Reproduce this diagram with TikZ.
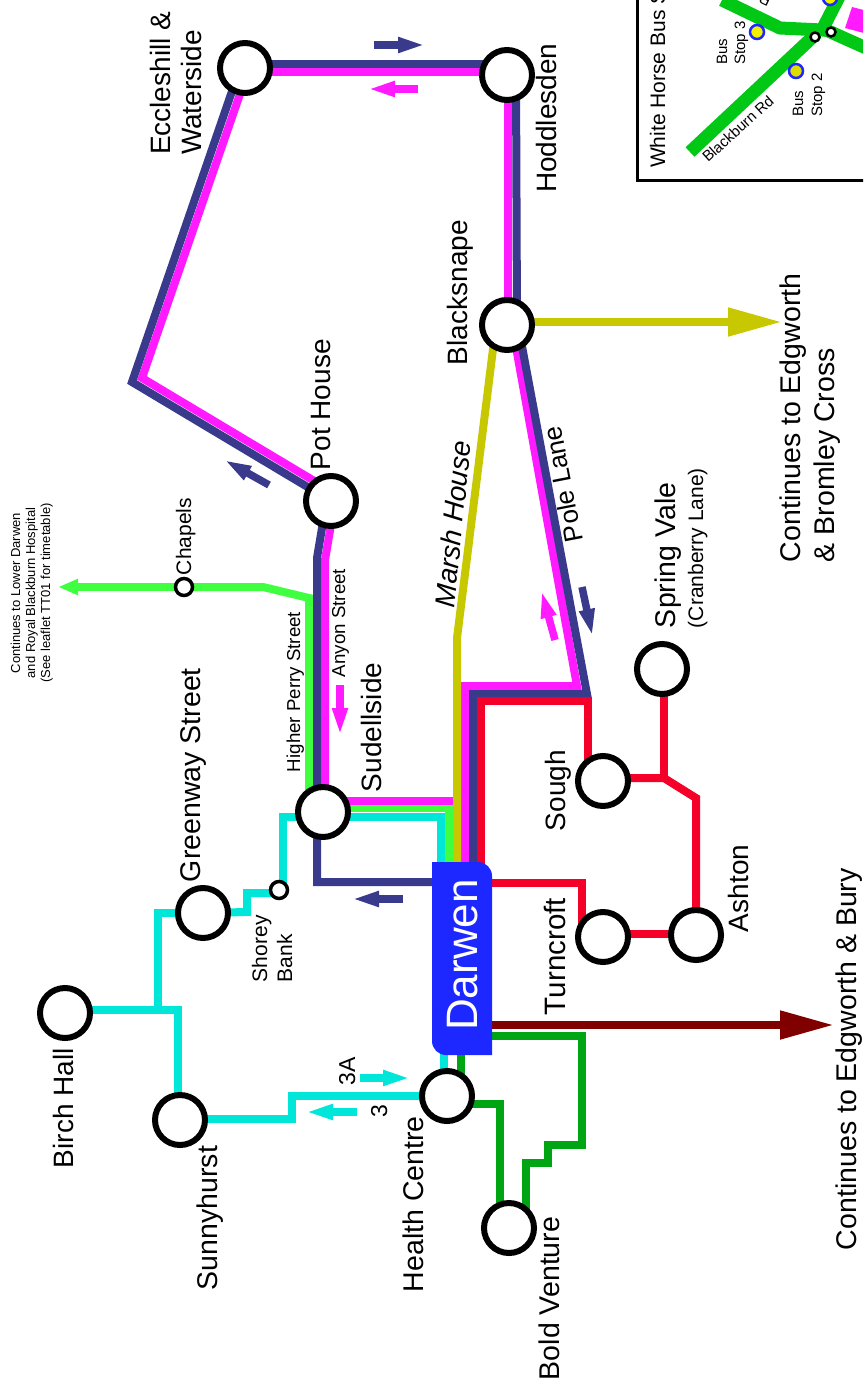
\documentclass[tikz,border=0pt]{standalone}
\usepackage{fontspec}
\setmainfont{Liberation Sans}
\usetikzlibrary{calc,arrows.meta,backgrounds}
\definecolor{navy}{HTML}{3A3A8C}
\definecolor{magen}{HTML}{FF1AFF}
\definecolor{cyanl}{HTML}{00E6D8}
\definecolor{lime}{HTML}{40FF40}
\definecolor{olive}{HTML}{C8C800}
\definecolor{redl}{HTML}{F50028}
\definecolor{dgreen}{HTML}{00A514}
\definecolor{maroon}{HTML}{800000}
\definecolor{dblue}{HTML}{1C28FF}
\definecolor{road}{HTML}{00C814}
\definecolor{stopy}{HTML}{F0F000}
\tikzset{
 station/.style={circle,draw=black,fill=white,line width=6pt,minimum size=50pt,inner sep=0pt,outer sep=0pt},
 minor/.style={circle,draw=black,fill=white,line width=3.5pt,minimum size=17pt,inner sep=0pt,outer sep=0pt},
 junct/.style={circle,draw=black,fill=white,line width=2.5pt,minimum size=9pt,inner sep=0pt,outer sep=0pt},
 busstop/.style={circle,draw=dblue,fill=stopy,line width=2.5pt,minimum size=14pt,inner sep=0pt,outer sep=0pt},
 route/.style={line width=8pt,line join=miter,miter limit=10},
 roadline/.style={road,line width=13pt,line join=miter},
 txt/.style={anchor=base west,inner sep=0pt,outer sep=0pt,font=\fontsize{28.5}{33}\selectfont},
 lab/.style={txt,rotate=90},
 labn/.style={lab,font=\fontsize{28}{33}\selectfont},
 labsmall/.style={lab,font=\fontsize{21}{24}\selectfont},
 labtiny/.style={lab,font=\fontsize{15}{18}\selectfont},
 labcentre/.style={rotate=90,anchor=base,inner sep=0pt,font=\fontsize{13}{15}\selectfont},
 dirarrow/.style={line width=7.5pt,-{Triangle[length=28pt,width=14pt,inset=0pt]}},
 endarrow/.style={route,-{Triangle[length=54pt,width=27pt,inset=0pt]}},
}
\begin{document}
\begin{tikzpicture}[x=1pt,y=-1pt]
\useasboundingbox (0,0) rectangle (863,1388);
% ---------- stations
\node[station] (ecc) at (245,68) {};
\node[station] (hod) at (507,75) {};
\node[station] (bla) at (507,325) {};
\node[station] (pot) at (331,501) {};
\node[station] (sud) at (323,812) {};
\node[station] (spr) at (662,669) {};
\node[station] (sou) at (603,781) {};
\node[station] (ash) at (696,935) {};
\node[station] (tur) at (603,937) {};
\node[station] (gre) at (203,913) {};
\node[station] (bir) at (65,1013) {};
\node[station] (sun) at (180,1120) {};
\node[station] (hea) at (447,1096) {};
\node[station] (bol) at (509,1228) {};
\node[minor] (sho) at (279,890) {};
\node[minor] (cha) at (184,587) {};
% ---------- Darwen box
\fill[dblue] (432,862) -- (478,862) arc[start angle=90,end angle=0,radius=14pt] -- (492,1055) -- (446,1055) arc[start angle=270,end angle=180,radius=14pt] -- cycle;
\node[rotate=90,anchor=base,text=white,inner sep=0pt,font=\fontsize{44}{50}\selectfont] (dar) at (477,955) {Darwen};
\coordinate (tipA) at (782,322);
\coordinate (tipB) at (834,1025);
\coordinate (tipC) at (58,587);
% ---------- routes
\begin{scope}[on background layer]
 % cyan
 \draw[route,cyanl] ($(sud.center)+(0,5)$) -- (283,817) -- (283,885);
 \draw[route,cyanl] ($(sud.center)+(0,5)$) -- (441,817) -- (441,870);
 \draw[route,cyanl] ($(sho.center)+(0,3)$) -- (247,893) -- (247,912) -- (gre.center);
 \draw[route,cyanl] (gre.center) -- (158,913) -- (158,1014);
 \draw[route,cyanl] ($(bir.center)+(0,-3)$) -- (178,1010) -- (178,1120);
 \draw[route,cyanl] ($(sun.center)+(0,-1)$) -- (292,1119) -- (292,1096) -- (hea.center);
 \draw[route,cyanl] (444,1096) -- (444,1050);
 % lime
 \draw[route,lime] ($(sud.center)+(-14,0)$) -- (309,598) -- (263,587) -- (cha.center);
 \draw[route,lime,-{Triangle[length=20pt,width=15pt,inset=0pt]}] (cha.center) -- (tipC);
 \draw[route,lime] ($(sud.center)+(0,-4)$) -- (449,808) -- (449,870);
 % magenta
 \draw[route,magen] ($(ecc.center)+(0,4)$) -- ($(hod.center)+(0,-3)$);
 \draw[route,magen] ($(hod.center)+(1,0)$) -- ($(bla.center)+(1,0)$);
 \draw[route,magen] ($(ecc.center)+(4,0)$) -- (142,378) -- ($(pot.center)+(0,-10)$);
 \draw[route,magen] ($(pot.center)+(4,0)$) -- (325,560) -- (325,812);
 \draw[route,magen] ($(sud.center)+(0,-11)$) -- (453,801);
 \draw[route,magen] (465,870) -- (465,686) -- (577,686) -- ($(bla.center)+(5,0)$);
 % navy
 \draw[route,navy] ($(ecc.center)+(0,-4)$) -- ($(hod.center)+(0,-11)$);
 \draw[route,navy] ($(hod.center)+(9,0)$) -- ($(bla.center)+(10,0)$);
 \draw[route,navy] ($(ecc.center)+(-5,0)$) -- (132,382) -- (pot.center);
 \draw[route,navy] ($(pot.center)+(-4.5,0)$) -- (317,558) -- (317,882) -- (440,882);
 \draw[route,navy] (473,870) -- (473,694) -- (587,694) -- ($(bla.center)+(11,0)$);
 % olive
 \draw[route,olive] ($(bla.center)+(-11,0)$) -- (457,638) -- (457,870);
 \draw[endarrow,olive] ($(bla.center)+(0,-3)$) -- (tipA);
 % red
 \draw[route,redl] (481,870) -- (481,701) -- (588,701) -- (588,781);
 \draw[route,redl] (485,883) -- (582,883) -- (582,937);
 \draw[route,redl] ($(tur.center)+(0,-3)$) -- ($(ash.center)+(0,-1)$);
 \draw[route,redl] ($(spr.center)+(2,0)$) -- (664,778);
 \draw[route,redl] ($(sou.center)+(0,-3)$) -- (664,778) -- (696,798) -- (ash.center);
 % maroon
 \draw[endarrow,maroon] (485,1025) -- (tipB);
 % dark green
 \draw[route,dgreen] (461,1050) -- (461,1085);
 \draw[route,dgreen] ($(hea.center)+(0,8)$) -- (500,1104) -- (500,1228);
 \draw[route,dgreen] (485,1036) -- (582,1036) -- (582,1145) -- (548,1145) -- (548,1163) -- (526,1163) -- (526,1215);
\end{scope}
% ---------- direction arrows
\coordinate (a1s) at (374,45); \coordinate (a1e) at (426,45);
\coordinate (a2s) at (418,89); \coordinate (a2e) at (367,89);
\coordinate (a3s) at (269,485); \coordinate (a3e) at (223.5,459.5);
\coordinate (a4s) at (403,899); \coordinate (a4e) at (351,899);
\coordinate (a5s) at (340,685); \coordinate (a5e) at (340,736);
\coordinate (a6s) at (582,587); \coordinate (a6e) at (592.6,637);
\coordinate (a7s) at (555,640); \coordinate (a7e) at (541.2,590);
\coordinate (a8s) at (360,1078); \coordinate (a8e) at (411,1078);
\coordinate (a9s) at (357,1112); \coordinate (a9e) at (305,1112);
\draw[dirarrow,navy] (a1s) -- (a1e);
\draw[dirarrow,magen] (a2s) -- (a2e);
\draw[dirarrow,navy] (a3s) -- (a3e);
\draw[dirarrow,navy] (a4s) -- (a4e);
\draw[dirarrow,magen] (a5s) -- (a5e);
\draw[dirarrow,navy] (a6s) -- (a6e);
\draw[dirarrow,magen] (a7s) -- (a7e);
\draw[dirarrow,cyanl] (a8s) -- (a8e);
\draw[dirarrow,cyanl] (a9s) -- (a9e);
% ---------- labels
\node[labn] (t1) at (170.5,155) {Eccleshill \&};
\node[labn] (t2) at (201.5,155) {Waterside};
\node[labn] (t3) at (556,193) {Hoddlesden};
\node[labn] (t4) at (467,365) {Blacksnape};
\node[labn] (t5) at (330,470) {Pot House};
\node[labn] (t6) at (381.5,792) {Sudellside};
\node[labn] (t7) at (565,831) {Sough};
\node[lab,font=\fontsize{29.5}{33}\selectfont] (t8) at (565,1015) {Turncroft};
\node[labn] (t9) at (748.5,932) {Ashton};
\node[lab] (t10) at (675,628) {Spring Vale};
\node[labsmall] (t11) at (703,628) {(Cranberry Lane)};
\node[txt,rotate=84,font=\itshape\fontsize{28}{33}\selectfont] (t12) at (454,608) {Marsh House};
\node[txt,rotate=101,font=\fontsize{26}{30}\selectfont] (t13) at (583,540) {Pole Lane};
\node[lab,font=\fontsize{18.7}{22}\selectfont] (t14) at (300,772) {Higher Perry Street};
\node[lab,font=\fontsize{18.7}{22}\selectfont] (t15) at (345,677) {Anyon Street};
\node[lab,font=\fontsize{21}{24}\selectfont] (t16) at (191,575) {Chapels};
\node[labcentre] (t17) at (20,593) {Continues to Lower Darwen};
\node[labcentre] (t18) at (35,593) {and Royal Blackburn Hospital};
\node[labcentre] (t19) at (50,593) {(See leaflet TT01 for timetable)};
\node[lab] (t20) at (200,882) {Greenway Street};
\node[labsmall] (t21) at (267,982) {Shorey};
\node[labsmall] (t22) at (292,982) {Bank};
\node[labn] (t23) at (73.5,1168) {Birch Hall};
\node[lab] (t24) at (217,1290) {Sunnyhurst};
\node[lab] (t25) at (423.5,1292) {Health Centre};
\node[lab] (t26) at (559,1380) {Bold Venture};
\node[lab] (t27) at (856,1250) {Continues to Edgworth \& Bury};
\node[lab] (t28) at (800.5,562) {Continues to Edgworth};
\node[lab] (t29) at (834,562) {\& Bromley Cross};
\node[lab,font=\fontsize{23}{26}\selectfont] (t30) at (355,1085) {3A};
\node[lab,font=\fontsize{23}{26}\selectfont] (t31) at (387,1117) {3};
% ---------- inset
\begin{scope}
\clip (0,0) rectangle (863,1388);
\fill[magen] (852,7) -- (875,13) -- (875,36) -- (845,28) -- cycle;
\coordinate (r0) at (690,152);
\coordinate (r1) at (817,33);
\coordinate (r2) at (722,0);
\coordinate (r3) at (840,-5);
\coordinate (r4) at (875,52);
\draw[roadline] (r0) -- (r1);
\draw[roadline] (r2) -- (780,28) -- (822,30) -- (r3);
\draw[roadline] (826,30) -- (r4);
\node[junct] (j1) at (815,37) {};
\node[junct] (j2) at (831,32) {};
\node[busstop] (b3) at (757,32) {};
\node[busstop,fill=stopy!92!black] (b2) at (796,71) {};
\node[busstop] (b4) at (830,-2) {};
\draw[line width=3pt] (637.5,-10) -- (637.5,181) -- (875,181);
\node[lab,font=\fontsize{21}{24}\selectfont] (t32) at (665,168) {White Horse Bus S};
\node[labtiny] (t33) at (727,65) {Bus};
\node[labtiny] (t34) at (745,65) {Stop 3};
\node[labtiny] (t35) at (803,117) {Bus};
\node[labtiny] (t36) at (822,117) {Stop 2};
\node[txt,rotate=42,font=\fontsize{15}{18}\selectfont] (t37) at (708,163) {Blackburn Rd};
\node[txt,rotate=155,font=\fontsize{15}{18}\selectfont] (t38) at (772,-2) {R};
\end{scope}
\end{tikzpicture}
\end{document}
